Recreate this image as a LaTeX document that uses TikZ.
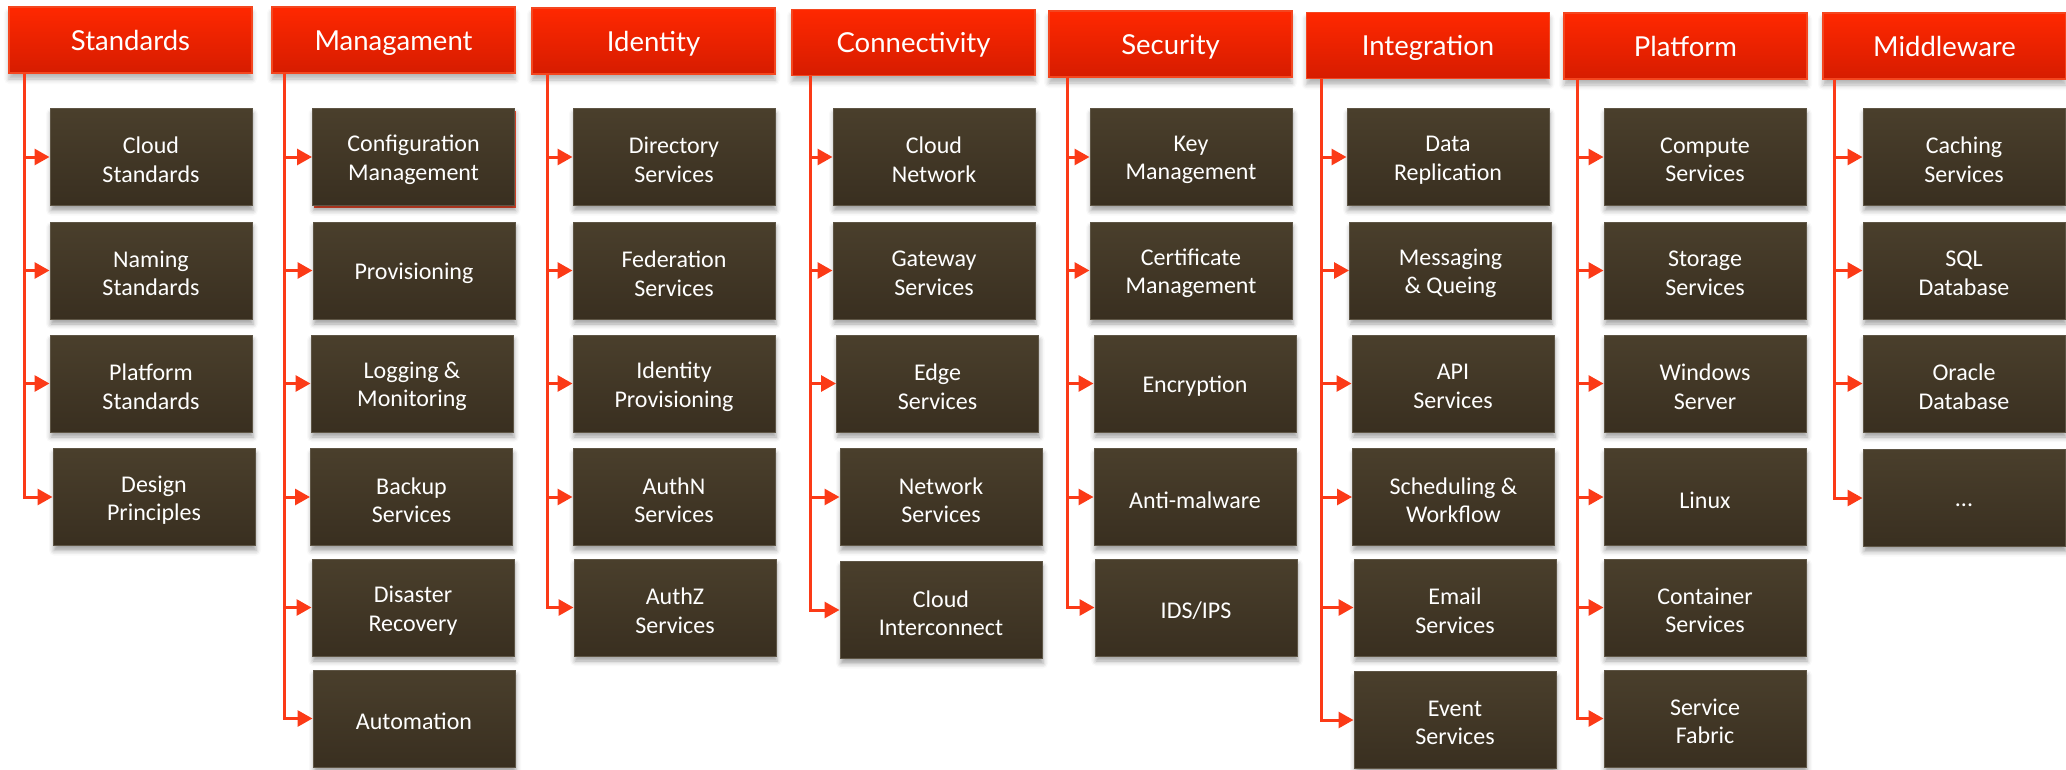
\documentclass[tikz,border=0pt]{standalone}
\usepackage{fontspec}
\setmainfont{Carlito}
\newfontfamily\hdfont{Lato}
\usetikzlibrary{arrows.meta,shadows,shadows.blur,calc}

\definecolor{hdtop}{HTML}{FF2800}
\definecolor{hdbot}{HTML}{D61C00}
\definecolor{hdedge}{HTML}{F4461F}
\definecolor{bxtop}{HTML}{4A3F2C}
\definecolor{bxbot}{HTML}{392F20}
\definecolor{bxedge}{HTML}{5E5545}
\definecolor{wire}{HTML}{FB3A17}

\tikzset{
  hdr/.style={rectangle, minimum width=243pt, minimum height=66pt, inner sep=0pt,
    top color=hdtop, bottom color=hdbot, draw=hdedge, line width=1.5pt,
    text=white, font=\hdfont\fontsize{27.5}{32}\selectfont,
    execute at begin node={\rule{0pt}{26pt}},
    execute at end node={\rule[-5.4pt]{0pt}{5.4pt}},
    blur shadow={shadow xshift=0pt, shadow yshift=-6pt, shadow blur radius=5pt, shadow opacity=30}},
  boxtext/.style={text=white, align=center, font=\fontsize{24}{28.5}\selectfont,
    inner sep=0pt, yshift=-3pt},
  box/.style={rectangle, minimum width=202pt, minimum height=97pt, inner sep=0pt,
    top color=bxtop, bottom color=bxbot, draw=bxedge, line width=1pt,
    label={[boxtext]center:{#1}},
    blur shadow={shadow xshift=1pt, shadow yshift=-5pt, shadow blur radius=5pt, shadow opacity=38}},
  picked/.style={drop shadow={shadow xshift=1.5pt, shadow yshift=-2pt, fill=wire, opacity=0.9}},
  wirearrow/.style={draw=wire, line width=3pt, -{Triangle[length=15pt,width=16pt]}}
}

\begin{document}
\begin{tikzpicture}[x=1pt,y=-1pt]
\useasboundingbox (0,0) rectangle (2066,769);

% Standards
\node[hdr] (hS) at (130.5,40) {Standards};
\node[box={Cloud\\Standards}] (s1) at (151,157) {};
\node[box={Naming\\Standards}] (s2) at (151,270.5) {};
\node[box={Platform\\Standards}] (s3) at (151,383.5) {};
\node[box={Design\\Principles}] (s4) at (154,497) {};
\coordinate (sT) at ($(hS.south west)+(16,0)$);

% Management
\node[hdr] (hM) at (393.5,40) {Managament};
\node[picked,box={Configuration\\Management}] (m1) at (413.5,157) {};
\node[box={Provisioning}] (m2) at (414,270.5) {};
\node[box={Logging \&\\Monitoring}] (m3) at (412,383.5) {};
\node[box={Backup\\Services}] (m4) at (411.5,497) {};
\node[box={Disaster\\Recovery}] (m5) at (413,607.5) {};
\node[box={Automation}] (m6) at (414,718.5) {};
\coordinate (mT) at ($(hM.south west)+(13,0)$);

% Identity
\node[hdr] (hI) at (653.5,41) {Identity};
\node[box={Directory\\Services}] (i1) at (674,157) {};
\node[box={Federation\\Services}] (i2) at (674,270.5) {};
\node[box={Identity\\Provisioning}] (i3) at (674,383.5) {};
\node[box={AuthN\\Services}] (i4) at (674,497) {};
\node[box={AuthZ\\Services}] (i5) at (675,607.5) {};
\coordinate (iT) at ($(hI.south west)+(16,0)$);

% Connectivity
\node[hdr] (hC) at (913.5,42.5) {Connectivity};
\node[box={Cloud\\Network}] (c1) at (934,157) {};
\node[box={Gateway\\Services}] (c2) at (934,270.5) {};
\node[box={Edge\\Services}] (c3) at (937.5,383.5) {};
\node[box={Network\\Services}] (c4) at (941,497) {};
\node[box={Cloud\\Interconnect}] (c5) at (941,610) {};
\coordinate (cT) at ($(hC.south west)+(19,0)$);

% Security
\node[hdr] (hK) at (1170.5,44) {Security};
\node[box={Key\\Management}] (k1) at (1191,157) {};
\node[box={Certificate\\Management}] (k2) at (1191,270.5) {};
\node[box={Encryption}] (k3) at (1195,383.5) {};
\node[box={Anti-malware}] (k4) at (1195,497) {};
\node[box={IDS/IPS}] (k5) at (1196,607.5) {};
\coordinate (kT) at ($(hK.south west)+(19,0)$);

% Integration
\node[hdr] (hG) at (1428,45.5) {Integration};
\node[box={Data\\Replication}] (g1) at (1448,157) {};
\node[box={Messaging\\\& Queing}] (g2) at (1450.5,270.5) {};
\node[box={API\\Services}] (g3) at (1453,383.5) {};
\node[box={Scheduling \&\\Workflow}] (g4) at (1453.5,497) {};
\node[box={Email\\Services}] (g5) at (1455,607.5) {};
\node[box={Event\\Services}] (g6) at (1455,720) {};
\coordinate (gT) at ($(hG.south west)+(16,0)$);

% Platform
\node[hdr] (hP) at (1685.5,46) {Platform};
\node[box={Compute\\Services}] (p1) at (1705,157) {};
\node[box={Storage\\Services}] (p2) at (1705,270.5) {};
\node[box={Windows\\Server}] (p3) at (1705,383.5) {};
\node[box={Linux}] (p4) at (1705,497) {};
\node[box={Container\\Services}] (p5) at (1705,607.5) {};
\node[box={Service\\Fabric}] (p6) at (1705,718.5) {};
\coordinate (pT) at ($(hP.south west)+(14,0)$);

% Middleware
\node[hdr] (hW) at (1944.5,46) {Middleware};
\node[box={Caching\\Services}] (w1) at (1964,157) {};
\node[box={SQL\\Database}] (w2) at (1964,270.5) {};
\node[box={Oracle\\Database}] (w3) at (1964,383.5) {};
\node[box={\strut...}] (w4) at (1964,498) {};
\coordinate (wT) at ($(hW.south west)+(12,0)$);

% branch connectors
\foreach \b in {s1,s2,s3,s4} \draw[wirearrow] (sT) |- (\b.west);
\foreach \b in {m1,m2,m3,m4,m5,m6} \draw[wirearrow] (mT) |- (\b.west);
\foreach \b in {i1,i2,i3,i4,i5} \draw[wirearrow] (iT) |- (\b.west);
\foreach \b in {c1,c2,c3,c4,c5} \draw[wirearrow] (cT) |- (\b.west);
\foreach \b in {k1,k2,k3,k4,k5} \draw[wirearrow] (kT) |- (\b.west);
\foreach \b in {g1,g2,g3,g4,g5,g6} \draw[wirearrow] (gT) |- (\b.west);
\foreach \b in {p1,p2,p3,p4,p5,p6} \draw[wirearrow] (pT) |- (\b.west);
\foreach \b in {w1,w2,w3,w4} \draw[wirearrow] (wT) |- (\b.west);
\end{tikzpicture}
\end{document}
